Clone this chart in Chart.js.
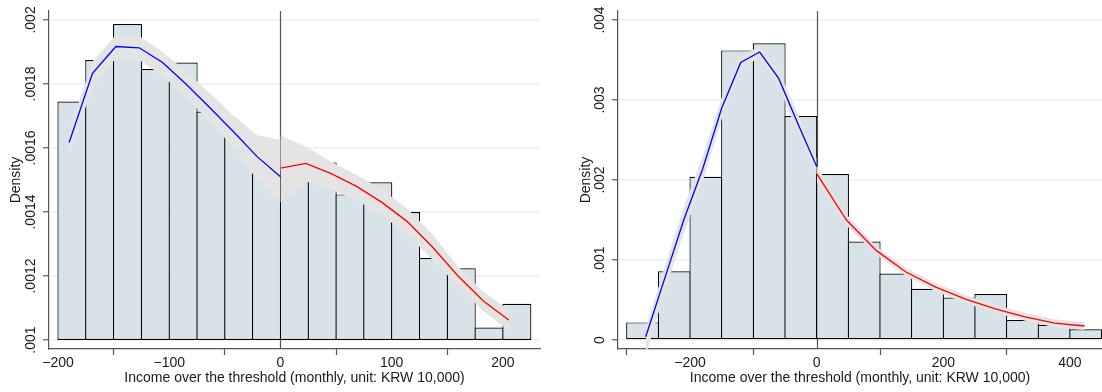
<!DOCTYPE html>
<html><head><meta charset="utf-8">
<script src="https://cdn.jsdelivr.net/npm/chart.js@4.4.1/dist/chart.umd.min.js"></script>
<style>
html,body{margin:0;padding:0;background:#fff;}
#wrap{position:relative;width:1102px;height:392px;overflow:hidden;}
canvas{position:absolute;top:0;}
</style></head><body>
<div id="wrap">
<canvas id="left" width="551" height="392" style="left:0"></canvas>
<canvas id="right" width="551" height="392" style="left:551px"></canvas>
</div>
<script>
// ---------- shared text ----------
const xTitle = 'Income over the threshold (monthly, unit: KRW 10,000)';
const yTitle = 'Density';

// ---------- LEFT panel ----------
const leftBinStarts = [-200,-175,-150,-125,-100,-75,-50,-25,0,25,50,75,100,125,150,175,200];
const leftBinWidth = 25;
const leftBarValues = [0.001745,0.001875,0.001987,0.001847,0.001867,0.001714,0.001641,0.001531,
                       0.00152,0.001555,0.001455,0.001493,0.0014,0.001256,0.001224,0.001039,0.001113];
const leftBarBase = 0.001;

const leftBlueX  = [-190,-169,-148,-127,-106,-85,-63,-42,-21,0];
const leftBlueY  = [0.001617,0.001833,0.001917,0.001913,0.001867,0.0018,0.001724,0.00165,0.001573,0.00151];
const leftBlueLo = [0.001577,0.00179,0.00188,0.001875,0.001825,0.00176,0.00168,0.0016,0.0015,0.00143];
const leftBlueHi = [0.001652,0.00187,0.001953,0.00195,0.0019,0.00184,0.00177,0.0017,0.00164,0.001625];

const leftRedX  = [0,22.8,45.6,68.4,91.2,114,136.8,159.6,182.4,205.2];
const leftRedY  = [0.001537,0.001552,0.00152,0.00148,0.00143,0.00137,0.00129,0.0012,0.001122,0.0010625];
const leftRedLo = [0.00143,0.001495,0.00147,0.001437,0.00139,0.00133,0.00125,0.00117,0.00109,0.00103];
const leftRedHi = [0.00164,0.001604,0.001557,0.001516,0.00147,0.00141,0.00133,0.00123,0.001152,0.001094];

const leftXTicks = [-200,-100,0,100,200];
const leftXTickLabels = ['\u2212200','\u2212100','0','100','200'];
const leftYTicks = [0.001,0.0012,0.0014,0.0016,0.0018,0.002];
const leftYTickLabels = ['.001','.0012','.0014','.0016','.0018','.002'];

// ---------- RIGHT panel ----------
const rightBinStarts = [-300,-250,-200,-150,-100,-50,0,50,100,150,200,250,300,350,400];
const rightBinWidth = 50;
const rightBarValues = [0.00022,0.00086,0.00204,0.00362,0.00371,0.0028,0.002075,0.00123,
                        0.00083,0.00064,0.00053,0.000575,0.00025,0.00019,0.000134];
const rightBarBase = 0;

const rightBlueX  = [-270,-240,-210,-180,-150,-120,-90,-60,-30,0];
const rightBlueY  = [0.00004,0.00077,0.0015,0.00214,0.0029,0.00347,0.0036,0.00327,0.00271,0.00217];
const rightBlueLo = [-0.0002,0.0006,0.00133,0.00198,0.00276,0.00339,0.00353,0.00318,0.00258,0.00207];
const rightBlueHi = [0.00014,0.00092,0.00166,0.0023,0.00303,0.00355,0.00367,0.00337,0.00283,0.00227];

const rightRedX  = [0,47,94,141,188,235,282,329,376,423];
const rightRedY  = [0.00208,0.0015,0.00112,0.00085,0.00066,0.00051,0.00039,0.00029,0.00021,0.000175];
const rightRedLo = [0.00198,0.00143,0.00107,0.00080,0.00061,0.00046,0.00034,0.00024,0.00016,0.000125];
const rightRedHi = [0.00218,0.00157,0.00117,0.00090,0.00071,0.00056,0.00044,0.00034,0.00026,0.000225];

const rightXTicks = [-200,0,200,400];
const rightXTickLabels = ['\u2212200','0','200','400'];
const rightYTicks = [0,0.001,0.002,0.003,0.004];
const rightYTickLabels = ['0','.001','.002','.003','.004'];

// ---------- styling ----------
const FONT = 'Liberation Sans, Arial, sans-serif';
const TEXT = '#1a1a1a';
const BAR_FILL = '#d8e3e9';
const BAR_EDGE = '#000000';
const BAND = '#e4e4e4';
const AXIS = '#555555';
const GRID = '#ecf2f2';

Chart.defaults.font.family = FONT;
Chart.defaults.font.size = 14;
Chart.defaults.color = TEXT;

const pts = (xs, ys) => xs.map((x, i) => ({x: x, y: ys[i]}));

const panelPlugin = {
  id: 'panel',
  beforeDatasetsDraw(chart, args, o) {
    const {ctx, chartArea} = chart;
    const xs = chart.scales.x;
    const px = Math.round(xs.getPixelForValue(0)) + 0.5;
    ctx.save();
    ctx.strokeStyle = AXIS;
    ctx.lineWidth = 1.2;
    ctx.beginPath();
    ctx.moveTo(px, chartArea.top);
    ctx.lineTo(px, chartArea.bottom);
    ctx.stroke();
    ctx.restore();
  },
  afterDraw(chart, args, o) {
    const {ctx} = chart;
    const ys = chart.scales.y;
    ctx.save();
    ctx.font = '14px ' + FONT;
    ctx.fillStyle = TEXT;
    ctx.textAlign = 'center';
    ctx.textBaseline = 'middle';
    o.values.forEach((v, i) => {
      const py = ys.getPixelForValue(v);
      ctx.save();
      ctx.translate(o.labelX, py);
      ctx.rotate(-Math.PI / 2);
      ctx.fillText(o.labels[i], 0, 0);
      ctx.restore();
    });
    ctx.restore();
  }
};

function makePanel(id, cfg) {
  const bars = cfg.binStarts.map((s, i) => ({x: s + cfg.binWidth / 2, y: [cfg.base, cfg.barValues[i]]}));
  const binPx = cfg.binWidth * cfg.pxPerUnit;
  const datasets = [
    {type: 'bar', data: bars, backgroundColor: BAR_FILL, borderColor: BAR_EDGE, borderWidth: 1.2,
     borderSkipped: false, categoryPercentage: 1, barPercentage: (binPx + 1.2) / binPx, grouped: false, order: 6},
    {type: 'line', data: pts(cfg.blueX, cfg.blueLo), borderWidth: 0, pointRadius: 0, fill: false, order: 4, clip: cfg.clip},
    {type: 'line', data: pts(cfg.blueX, cfg.blueHi), borderWidth: 0, pointRadius: 0, fill: '-1', backgroundColor: BAND, order: 4, clip: cfg.clip},
    {type: 'line', data: pts(cfg.redX, cfg.redLo), borderWidth: 0, pointRadius: 0, fill: false, order: 3},
    {type: 'line', data: pts(cfg.redX, cfg.redHi), borderWidth: 0, pointRadius: 0, fill: '-1', backgroundColor: BAND, order: 3},
    {type: 'line', data: pts(cfg.blueX, cfg.blueY), borderColor: '#0000ff', borderWidth: 1.3, pointRadius: 0, fill: false, order: 1, clip: cfg.clip},
    {type: 'line', data: pts(cfg.redX, cfg.redY), borderColor: '#ff0000', borderWidth: 1.3, pointRadius: 0, fill: false, order: 1}
  ];
  return new Chart(document.getElementById(id), {
    type: 'bar',
    data: {datasets},
    plugins: [panelPlugin],
    options: {
      responsive: false,
      animation: false,
      devicePixelRatio: 1,
      events: [],
      layout: {padding: {top: 11, right: cfg.padRight, left: 0, bottom: 0}},
      plugins: {
        legend: {display: false},
        tooltip: {enabled: false},
        panel: {values: cfg.yTicks, labels: cfg.yTickLabels, labelX: cfg.yLabelX}
      },
      scales: {
        x: {
          type: 'linear', offset: false, min: cfg.xMin, max: cfg.xMax,
          afterBuildTicks: s => { s.ticks = cfg.xTicks.map(v => ({value: v})); },
          afterFit: s => { s.height = 43; },
          ticks: {padding: 0, maxRotation: 0, minRotation: 0, autoSkip: false, color: TEXT,
                  font: {size: 14, family: FONT},
                  callback: (v) => cfg.xTickLabels[cfg.xTicks.indexOf(v)]},
          grid: {drawOnChartArea: false, drawTicks: true, tickLength: 6, tickColor: AXIS, tickWidth: 1.2},
          border: {display: true, color: AXIS, width: 1.2},
          title: {display: true, text: xTitle, color: TEXT, font: {size: 14, family: FONT},
                  padding: {top: 0, bottom: 5.6}}
        },
        y: {
          type: 'linear', min: cfg.yMin, max: cfg.yMax,
          afterBuildTicks: s => { s.ticks = cfg.yTicks.map(v => ({value: v})); },
          afterFit: s => { s.width = cfg.yAxisWidth; },
          ticks: {display: false},
          grid: {color: GRID, lineWidth: 1.5, drawTicks: true, tickLength: 6, tickColor: AXIS, tickWidth: 1.2},
          border: {display: true, color: AXIS, width: 1.2},
          title: {display: true, text: yTitle, color: TEXT, font: {size: 14, family: FONT},
                  padding: {top: cfg.yTitlePad, bottom: 0}}
        }
      }
    }
  });
}

makePanel('left', {
  binStarts: leftBinStarts, binWidth: leftBinWidth, barValues: leftBarValues, base: leftBarBase,
  blueX: leftBlueX, blueY: leftBlueY, blueLo: leftBlueLo, blueHi: leftBlueHi,
  redX: leftRedX, redY: leftRedY, redLo: leftRedLo, redHi: leftRedHi,
  xTicks: leftXTicks, xTickLabels: leftXTickLabels, yTicks: leftYTicks, yTickLabels: leftYTickLabels,
  xMin: -208.1, xMax: 233.3, yMin: 0.000972, yMax: 0.002028,
  pxPerUnit: 1.1125, padRight: 11, yAxisWidth: 49, yLabelX: 31.3, yTitlePad: 7.6, clip: 0
});

makePanel('right', {
  binStarts: rightBinStarts, binWidth: rightBinWidth, barValues: rightBarValues, base: rightBarBase,
  blueX: rightBlueX, blueY: rightBlueY, blueLo: rightBlueLo, blueHi: rightBlueHi,
  redX: rightRedX, redY: rightRedY, redLo: rightRedLo, redHi: rightRedHi,
  xTicks: rightXTicks, xTickLabels: rightXTickLabels, yTicks: rightYTicks, yTickLabels: rightYTickLabels,
  xMin: -313.8, xMax: 450.6, yMin: -0.0001125, yMax: 0.0041125,
  pxPerUnit: 0.6333, padRight: 0, yAxisWidth: 67, yLabelX: 49.3, yTitlePad: 26.8,
  clip: {left: 0, top: 0, right: 0, bottom: 8}
});
</script>
</body></html>
